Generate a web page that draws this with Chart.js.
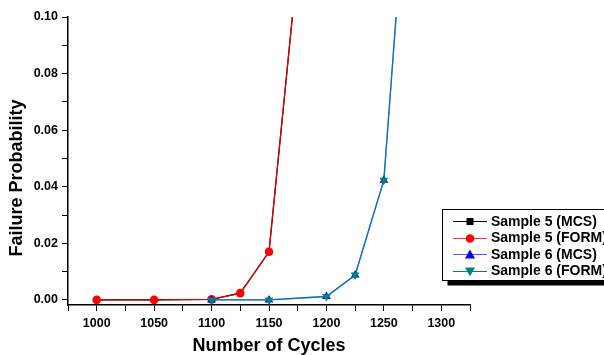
<!DOCTYPE html>
<html>
<head>
<meta charset="utf-8">
<script src="https://cdn.jsdelivr.net/npm/chart.js@4/dist/chart.umd.min.js"></script>
<style>
html,body{margin:0;padding:0;background:#fff;overflow:hidden;}
#wrap{width:604px;height:355px;position:relative;}
</style>
</head>
<body>
<div id="wrap"><canvas id="c" width="604" height="355"></canvas></div>
<script>
// ---- data ----
const cycles5 = [1000, 1050, 1100, 1125, 1150, 1175];
const mcs5    = [0, 0, 0.0002, 0.0024, 0.017, 0.119];
const form5   = [0, 0, 0.0002, 0.0024, 0.017, 0.119];
const cycles6 = [1100, 1150, 1200, 1225, 1250, 1275];
const mcs6    = [0, 0, 0.0012, 0.0088, 0.0423, 0.178];
const form6   = [0, 0, 0.0012, 0.0088, 0.0423, 0.178];
const xTicks  = [975,1000,1025,1050,1075,1100,1125,1150,1175,1200,1225,1250,1275,1300,1325];
const xLabels = [1000,1050,1100,1150,1200,1250,1300];
const yTicks  = [0,0.01,0.02,0.03,0.04,0.05,0.06,0.07,0.08,0.09,0.10];
const yLabels = [0,0.02,0.04,0.06,0.08,0.10];
const seriesNames = ['Sample 5 (MCS)','Sample 5 (FORM)','Sample 6 (MCS)','Sample 6 (FORM)'];

const FONT = '"Liberation Sans", Arial, sans-serif';
const pts = (xs, ys) => xs.map((x, i) => ({x: x, y: ys[i]}));

const legendPlugin = {
  id: 'customLegend',
  afterDraw(chart) {
    const ctx = chart.ctx;
    ctx.save();
    // axis titles
    ctx.fillStyle = '#000';
    ctx.font = 'bold 18px ' + FONT;
    ctx.textAlign = 'center';
    ctx.textBaseline = 'middle';
    ctx.fillText('Number of Cycles', 269, 346);
    ctx.save();
    ctx.translate(17, 178);
    ctx.rotate(-Math.PI / 2);
    ctx.fillText('Failure Probability', 0, 0);
    ctx.restore();

    // legend box with shadow
    const bx = 442.5, by = 209.5, bw = 200, bh = 71;
    ctx.fillStyle = '#000';
    ctx.fillRect(bx + 5, by + 1, bw, bh + 4);
    ctx.fillStyle = '#fff';
    ctx.fillRect(bx, by, bw, bh);
    ctx.strokeStyle = '#000';
    ctx.lineWidth = 1;
    ctx.strokeRect(bx, by, bw, bh);

    const ys = [221, 237.5, 254, 270.5];
    chart.data.datasets.forEach((ds, i) => {
      const y = ys[i];
      ctx.strokeStyle = ds.legendLine;
      ctx.lineWidth = 1;
      ctx.beginPath();
      ctx.moveTo(453, Math.round(y) + 0.5);
      ctx.lineTo(487, Math.round(y) + 0.5);
      ctx.stroke();
      ctx.fillStyle = ds.pointBackgroundColor;
      const mx = 470, my = Math.round(y) + 0.5;
      ctx.beginPath();
      if (ds.pointStyle === 'rect') {
        ctx.rect(mx - 3.5, my - 3.5, 7, 7);
      } else if (ds.pointStyle === 'circle') {
        ctx.arc(mx, my, 4.3, 0, Math.PI * 2);
      } else if (ds.pointRotation === 180) {
        ctx.moveTo(mx - 5, my - 4); ctx.lineTo(mx + 5, my - 4); ctx.lineTo(mx, my + 5);
      } else {
        ctx.moveTo(mx - 5, my + 4); ctx.lineTo(mx + 5, my + 4); ctx.lineTo(mx, my - 5);
      }
      ctx.closePath();
      ctx.fill();
      ctx.fillStyle = '#000';
      ctx.font = 'bold 14px ' + FONT;
      ctx.textAlign = 'left';
      ctx.textBaseline = 'middle';
      ctx.fillText(seriesNames[i], 491, y + 1);
    });
    ctx.restore();
  }
};

new Chart(document.getElementById('c'), {
  type: 'line',
  data: {
    datasets: [
      {label: seriesNames[0], data: pts(cycles5, mcs5), borderColor: '#000', backgroundColor: '#000',
       pointBackgroundColor: '#000', pointBorderColor: '#000', pointStyle: 'rect', pointRadius: 3.5,
       borderWidth: 1.2, pointBorderWidth: 0, legendLine: '#000', order: 4},
      {label: seriesNames[1], data: pts(cycles5, form5), borderColor: '#e00000', backgroundColor: '#ff0000',
       pointBackgroundColor: '#ff0000', pointBorderColor: '#ff0000', pointStyle: 'circle', pointRadius: 4.3,
       borderWidth: 1.3, pointBorderWidth: 0, legendLine: '#ff3333', order: 3},
      {label: seriesNames[2], data: pts(cycles6, mcs6), borderColor: '#3355ff', backgroundColor: '#0000ff',
       pointBackgroundColor: '#0000ff', pointBorderColor: '#0000ff', pointStyle: 'triangle', pointRadius: 5,
       borderWidth: 1.3, pointBorderWidth: 0, legendLine: '#5555ff', order: 2},
      {label: seriesNames[3], data: pts(cycles6, form6), borderColor: 'rgba(0,128,140,0.65)', backgroundColor: '#008080',
       pointBackgroundColor: '#008080', pointBorderColor: '#008080', pointStyle: 'triangle', pointRotation: 180, pointRadius: 5,
       borderWidth: 1.3, pointBorderWidth: 0, legendLine: '#008080', order: 1}
    ]
  },
  options: {
    responsive: false,
    animation: false,
    events: [],
    layout: {padding: {left: 0, top: 17, right: 134, bottom: 0}},
    plugins: {legend: {display: false}, tooltip: {enabled: false}, title: {display: false}},
    elements: {line: {tension: 0}},
    scales: {
      x: {
        type: 'linear', min: 975, max: 1325,
        afterBuildTicks(s) { s.ticks = xTicks.map(v => ({value: v})); },
        afterFit(s) { s.height = 50; },
        grid: {display: true, drawOnChartArea: false, drawTicks: true, tickLength: 6, color: '#000', lineWidth: 1},
        border: {display: true, color: '#000', width: 1.5},
        ticks: {
          color: '#000', padding: 5, maxRotation: 0, autoSkip: false,
          font: {family: FONT, size: 12.5, weight: 'bold'},
          callback: v => xLabels.includes(v) ? String(v) : ''
        }
      },
      y: {
        type: 'linear', min: -0.0018, max: 0.1,
        afterBuildTicks(s) { s.ticks = yTicks.map(v => ({value: v})); },
        afterFit(s) { s.width = 68; },
        grid: {display: true, drawOnChartArea: false, drawTicks: true, tickLength: 6, color: '#000', lineWidth: 1},
        border: {display: true, color: '#000', width: 1.5},
        ticks: {
          color: '#000', padding: 4, autoSkip: false,
          font: {family: FONT, size: 12.5, weight: 'bold'},
          callback: v => (Math.round(v * 100) % 2 === 0) ? v.toFixed(2) : ''
        }
      }
    }
  },
  plugins: [legendPlugin]
});
</script>
</body>
</html>
